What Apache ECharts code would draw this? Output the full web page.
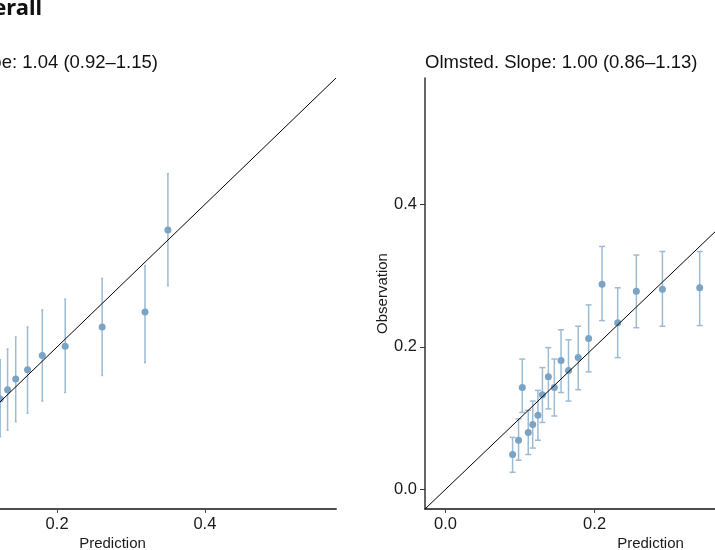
<!DOCTYPE html>
<html lang="en">
<head>
    <meta charset="UTF-8">
    <title>Calibration</title>
    <script src="https://cdn.jsdelivr.net/npm/echarts@6/dist/echarts.min.js"></script>
    <style>
        html, body { margin: 0; padding: 0; background: #fff; }
    </style>
</head>
<body>
   <div id="main" style="width: 715px;height:550px;"></div>
   <script type="text/javascript">
       // left panel (Overall)
       var overallPred = [0.123, 0.133, 0.144, 0.160, 0.180, 0.211, 0.261, 0.319, 0.350];
       var overallObs  = [0.127, 0.140, 0.155, 0.168, 0.188, 0.201, 0.228, 0.249, 0.364];
       var overallLo   = [0.074, 0.083, 0.095, 0.107, 0.124, 0.136, 0.160, 0.178, 0.286];
       var overallHi   = [0.182, 0.197, 0.214, 0.228, 0.252, 0.267, 0.296, 0.314, 0.443];

       // right panel (Olmsted)
       var olmPred = [0.090, 0.098, 0.103, 0.111, 0.117, 0.124, 0.130, 0.138, 0.146, 0.155, 0.165, 0.178, 0.192, 0.210, 0.231, 0.256, 0.291, 0.341];
       var olmObs  = [0.049, 0.069, 0.143, 0.080, 0.091, 0.104, 0.133, 0.158, 0.143, 0.181, 0.167, 0.185, 0.212, 0.288, 0.234, 0.278, 0.281, 0.283];
       var olmLo   = [0.024, 0.041, 0.108, 0.049, 0.058, 0.069, 0.094, 0.113, 0.103, 0.136, 0.124, 0.140, 0.165, 0.237, 0.185, 0.227, 0.229, 0.230];
       var olmHi   = [0.073, 0.099, 0.183, 0.111, 0.124, 0.139, 0.171, 0.199, 0.183, 0.224, 0.210, 0.229, 0.259, 0.341, 0.283, 0.329, 0.334, 0.334];

       var tickValues = [0, 0.2, 0.4];
       var axisMin = -0.0275, axisMax = 0.5775;

       var titleLeft = 'Overall. Slope: 1.04 (0.92\u20131.15)';
       var titleRight = 'Olmsted. Slope: 1.00 (0.86\u20131.13)';

       var FONT = '"Liberation Sans", Arial, sans-serif';
       var pointColor = '#7ba3c4';
       var barColor = '#9dbbd3';

       function zip(a, b) {
           var out = [];
           for (var i = 0; i < a.length; i++) out.push([a[i], b[i]]);
           return out;
       }
       function zip3(a, b, c) {
           var out = [];
           for (var i = 0; i < a.length; i++) out.push([a[i], b[i], c[i]]);
           return out;
       }

       // vertical bar from lo to hi, with small caps
       function errorBars(cap) {
           return function (params, api) {
               var top = api.coord([api.value(0), api.value(2)]);
               var bot = api.coord([api.value(0), api.value(1)]);
               var st = { stroke: barColor, lineWidth: 1.5 };
               return {
                   type: 'group',
                   children: [
                       { type: 'line', shape: { x1: top[0], y1: top[1], x2: bot[0], y2: bot[1] }, style: st },
                       { type: 'line', shape: { x1: top[0] - cap, y1: top[1], x2: top[0] + cap, y2: top[1] }, style: st },
                       { type: 'line', shape: { x1: bot[0] - cap, y1: bot[1], x2: bot[0] + cap, y2: bot[1] }, style: st }
                   ]
               };
           };
       }

       function xAxisFor(idx) {
           return {
               gridIndex: idx, type: 'value', min: axisMin, max: axisMax,
               name: 'Prediction', nameLocation: 'middle', nameGap: 27, nameMoveOverlap: false,
               nameTextStyle: { fontSize: 15, color: '#1a1a1a', fontFamily: FONT },
               splitLine: { show: false },
               axisLine: { onZero: false, lineStyle: { color: '#4d4d4d', width: 2 } },
               axisTick: { customValues: tickValues, length: 4, lineStyle: { color: '#4d4d4d' } },
               axisLabel: {
                   customValues: tickValues, margin: 7, fontSize: 16.5, color: '#1a1a1a', fontFamily: FONT,
                   formatter: function (v) { return v.toFixed(1); }
               }
           };
       }
       function yAxisFor(idx) {
           return {
               gridIndex: idx, type: 'value', min: axisMin, max: axisMax,
               name: 'Observation', nameLocation: 'middle', nameGap: 35, nameMoveOverlap: false,
               nameTextStyle: { fontSize: 15, color: '#1a1a1a', fontFamily: FONT },
               splitLine: { show: false },
               axisLine: { onZero: false, lineStyle: { color: '#333', width: 1.5 } },
               axisTick: { customValues: tickValues, length: 5, lineStyle: { color: '#333' } },
               axisLabel: {
                   customValues: tickValues, margin: 8, fontSize: 16.5, color: '#1a1a1a', fontFamily: FONT,
                   formatter: function (v) { return v.toFixed(1); }
               }
           };
       }

       var myChart = echarts.init(document.getElementById('main'));

       var option = {
           backgroundColor: '#fff',
           animation: false,
           grid: [
               { left: -111, top: 78, width: 447, height: 431, containLabel: false, outerBoundsMode: 'none' },
               { left: 425, top: 78, width: 451, height: 431, containLabel: false, outerBoundsMode: 'none' }
           ],
           xAxis: [xAxisFor(0), xAxisFor(1)],
           yAxis: [yAxisFor(0), yAxisFor(1)],
           graphic: [
               { type: 'text', x: 42, y: 9, style: { text: 'Overall', align: 'right', verticalAlign: 'middle', font: 'bold 22px "Noto Sans", "Open Sans", sans-serif', fill: '#111' } },
               { type: 'text', x: 158, y: 63, style: { text: titleLeft, align: 'right', verticalAlign: 'middle', font: '18.5px ' + FONT, fill: '#111' } },
               { type: 'text', x: 425, y: 63, style: { text: titleRight, align: 'left', verticalAlign: 'middle', font: '18.5px ' + FONT, fill: '#111' } }
           ],
           series: [
               { type: 'custom', xAxisIndex: 0, yAxisIndex: 0, renderItem: errorBars(1), encode: { x: 0, y: [1, 2] }, data: zip3(overallPred, overallLo, overallHi), z: 1 },
               { type: 'scatter', xAxisIndex: 0, yAxisIndex: 0, symbolSize: 7, itemStyle: { color: pointColor, opacity: 1 }, data: zip(overallPred, overallObs), z: 2 },
               { type: 'line', xAxisIndex: 0, yAxisIndex: 0, showSymbol: false, lineStyle: { color: '#000', width: 1 }, data: [[axisMin, axisMin], [axisMax, axisMax]], z: 3 },

               { type: 'custom', xAxisIndex: 1, yAxisIndex: 1, renderItem: errorBars(3), encode: { x: 0, y: [1, 2] }, data: zip3(olmPred, olmLo, olmHi), z: 1 },
               { type: 'scatter', xAxisIndex: 1, yAxisIndex: 1, symbolSize: 7, itemStyle: { color: pointColor, opacity: 1 }, data: zip(olmPred, olmObs), z: 2 },
               { type: 'line', xAxisIndex: 1, yAxisIndex: 1, showSymbol: false, lineStyle: { color: '#000', width: 1 }, data: [[axisMin, axisMin], [axisMax, axisMax]], z: 3 }
           ]
       };

       myChart.setOption(option);
   </script>
</body>
</html>
